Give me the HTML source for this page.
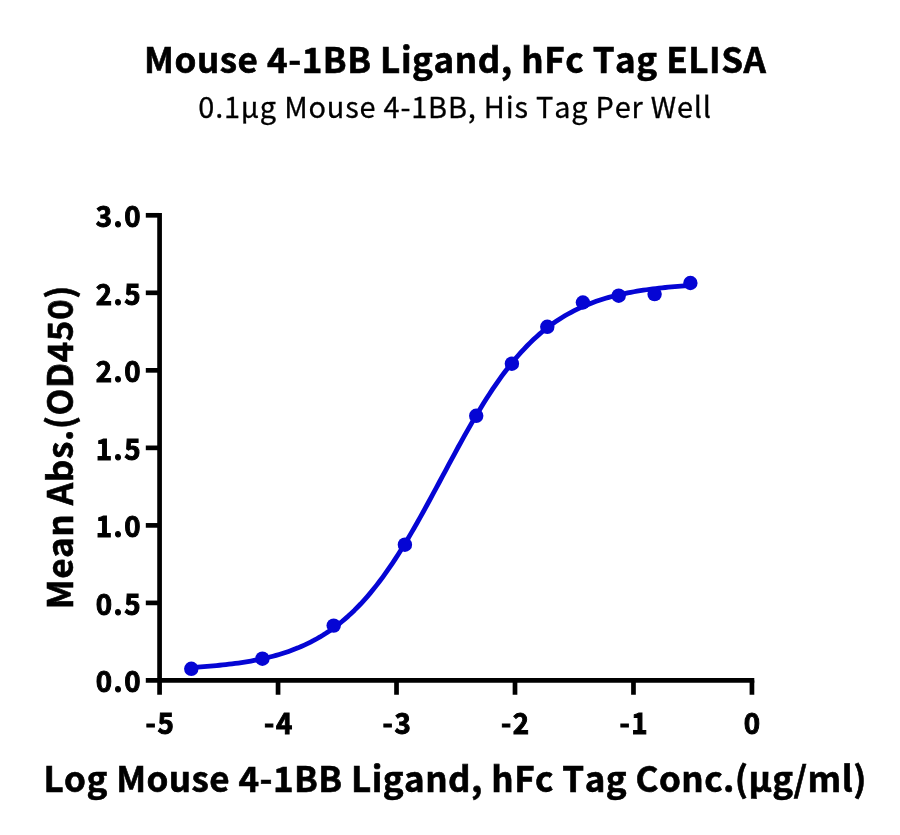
<!DOCTYPE html>
<html lang="en"><head><meta charset="utf-8"><title>Mouse 4-1BB Ligand, hFc Tag ELISA</title>
<style>
html,body{margin:0;padding:0;background:#fff;}
body{width:900px;height:835px;overflow:hidden;}
svg{display:block;}
text{font-family:"Noto Sans CJK SC", "Liberation Sans", sans-serif;fill:#000;font-kerning:none;}
.b{font-weight:700;}
.tick{font-size:29px;font-weight:700;stroke:#000;stroke-width:1px;letter-spacing:1.7px;}
.s5{stroke:#000;stroke-width:0.6px;}
.s3{stroke:#000;stroke-width:0.3px;}
</style></head><body>
<svg width="900" height="835" viewBox="0 0 900 835">
<rect width="900" height="835" fill="#ffffff"/>
<text x="455.3" y="73.2" text-anchor="middle" class="b s5" font-size="35" letter-spacing="0.544">Mouse 4-1BB Ligand, hFc Tag ELISA</text>
<text x="455.1" y="118.0" text-anchor="middle" class="s3" font-size="28.9" letter-spacing="0.81">0.1μg Mouse 4-1BB, His Tag Per Well</text>

<g stroke="#000" stroke-width="4.7" fill="none" stroke-linecap="butt">
<path d="M159.58 212.95 V694.75"/>
<path d="M145.8 680.42 H754.29"/>
<path d="M145.8 602.90 H159.58"/>
<path d="M145.8 525.38 H159.58"/>
<path d="M145.8 447.86 H159.58"/>
<path d="M145.8 370.34 H159.58"/>
<path d="M145.8 292.82 H159.58"/>
<path d="M145.8 215.30 H159.58"/>
<path d="M278.05 680.42 V694.75"/>
<path d="M396.52 680.42 V694.75"/>
<path d="M515.00 680.42 V694.75"/>
<path d="M633.47 680.42 V694.75"/>
<path d="M751.94 680.42 V694.75"/>
</g>
<text transform="translate(142.2 692.32) scale(0.955 1)" text-anchor="end" class="tick">0.0</text>
<text transform="translate(142.2 614.80) scale(0.955 1)" text-anchor="end" class="tick">0.5</text>
<text transform="translate(142.2 537.28) scale(0.955 1)" text-anchor="end" class="tick">1.0</text>
<text transform="translate(142.2 459.76) scale(0.955 1)" text-anchor="end" class="tick">1.5</text>
<text transform="translate(142.2 382.24) scale(0.955 1)" text-anchor="end" class="tick">2.0</text>
<text transform="translate(142.2 304.72) scale(0.955 1)" text-anchor="end" class="tick">2.5</text>
<text transform="translate(142.2 227.20) scale(0.955 1)" text-anchor="end" class="tick">3.0</text>
<text transform="translate(160.48 733.95) scale(0.955 1)" text-anchor="middle" class="tick">-5</text>
<text transform="translate(278.95 733.95) scale(0.955 1)" text-anchor="middle" class="tick">-4</text>
<text transform="translate(397.42 733.95) scale(0.955 1)" text-anchor="middle" class="tick">-3</text>
<text transform="translate(515.90 733.95) scale(0.955 1)" text-anchor="middle" class="tick">-2</text>
<text transform="translate(634.37 733.95) scale(0.955 1)" text-anchor="middle" class="tick">-1</text>
<text transform="translate(752.84 733.95) scale(0.955 1)" text-anchor="middle" class="tick">0</text>
<text transform="translate(72.9 447.1) rotate(-90)" text-anchor="middle" class="b s5" font-size="35" letter-spacing="0.563">Mean Abs.(OD450)</text>
<text x="455.15" y="792.1" text-anchor="middle" class="b s5" font-size="35" letter-spacing="0.444">Log Mouse 4-1BB Ligand, hFc Tag Conc.(μg/ml)</text>
<path d="M191.30 667.43 L194.44 667.24 L197.58 667.04 L200.72 666.83 L203.86 666.61 L206.99 666.37 L210.13 666.11 L213.27 665.84 L216.41 665.56 L219.55 665.25 L222.69 664.93 L225.83 664.59 L228.97 664.23 L232.11 663.85 L235.25 663.44 L238.38 663.01 L241.52 662.55 L244.66 662.07 L247.80 661.56 L250.94 661.02 L254.08 660.44 L257.22 659.83 L260.36 659.19 L263.50 658.50 L266.64 657.78 L269.77 657.02 L272.91 656.21 L276.05 655.35 L279.19 654.45 L282.33 653.49 L285.47 652.48 L288.61 651.42 L291.75 650.29 L294.89 649.10 L298.03 647.85 L301.16 646.52 L304.30 645.12 L307.44 643.65 L310.58 642.10 L313.72 640.47 L316.86 638.75 L320.00 636.95 L323.14 635.05 L326.28 633.05 L329.42 630.95 L332.55 628.75 L335.69 626.45 L338.83 624.03 L341.97 621.50 L345.11 618.85 L348.25 616.09 L351.39 613.19 L354.53 610.18 L357.67 607.03 L360.81 603.76 L363.94 600.35 L367.08 596.81 L370.22 593.13 L373.36 589.32 L376.50 585.37 L379.64 581.28 L382.78 577.06 L385.92 572.70 L389.06 568.21 L392.20 563.59 L395.33 558.84 L398.47 553.97 L401.61 548.98 L404.75 543.88 L407.89 538.66 L411.03 533.35 L414.17 527.94 L417.31 522.44 L420.45 516.87 L423.59 511.22 L426.72 505.51 L429.86 499.75 L433.00 493.94 L436.14 488.11 L439.28 482.25 L442.42 476.39 L445.56 470.52 L448.70 464.66 L451.84 458.83 L454.98 453.02 L458.11 447.26 L461.25 441.55 L464.39 435.91 L467.53 430.33 L470.67 424.83 L473.81 419.42 L476.95 414.11 L480.09 408.89 L483.23 403.79 L486.37 398.80 L489.50 393.93 L492.64 389.18 L495.78 384.56 L498.92 380.07 L502.06 375.71 L505.20 371.49 L508.34 367.40 L511.48 363.45 L514.62 359.64 L517.76 355.96 L520.89 352.42 L524.03 349.01 L527.17 345.73 L530.31 342.59 L533.45 339.57 L536.59 336.68 L539.73 333.91 L542.87 331.27 L546.01 328.73 L549.15 326.32 L552.28 324.01 L555.42 321.81 L558.56 319.72 L561.70 317.72 L564.84 315.82 L567.98 314.01 L571.12 312.29 L574.26 310.66 L577.40 309.11 L580.54 307.64 L583.67 306.24 L586.81 304.92 L589.95 303.66 L593.09 302.47 L596.23 301.35 L599.37 300.28 L602.51 299.27 L605.65 298.31 L608.79 297.41 L611.93 296.55 L615.06 295.74 L618.20 294.98 L621.34 294.26 L624.48 293.57 L627.62 292.93 L630.76 292.32 L633.90 291.75 L637.04 291.20 L640.18 290.69 L643.32 290.21 L646.45 289.75 L649.59 289.32 L652.73 288.91 L655.87 288.53 L659.01 288.17 L662.15 287.83 L665.29 287.51 L668.43 287.20 L671.57 286.92 L674.71 286.65 L677.84 286.39 L680.98 286.16 L684.12 285.93 L687.26 285.72 L690.40 285.52" fill="none" stroke="#0505d4" stroke-width="4.8" stroke-linejoin="round" stroke-linecap="butt"/>
<g fill="#0505d4">
<circle cx="191.3" cy="668.8" r="7.2"/>
<circle cx="262.4" cy="658.7" r="7.2"/>
<circle cx="333.7" cy="625.6" r="7.2"/>
<circle cx="404.9" cy="544.7" r="7.2"/>
<circle cx="476.2" cy="415.8" r="7.2"/>
<circle cx="511.9" cy="363.7" r="7.2"/>
<circle cx="547.3" cy="326.8" r="7.2"/>
<circle cx="582.9" cy="302.5" r="7.2"/>
<circle cx="618.7" cy="295.7" r="7.2"/>
<circle cx="654.6" cy="294.1" r="7.2"/>
<circle cx="690.4" cy="283.0" r="7.2"/>
</g>
</svg></body></html>
